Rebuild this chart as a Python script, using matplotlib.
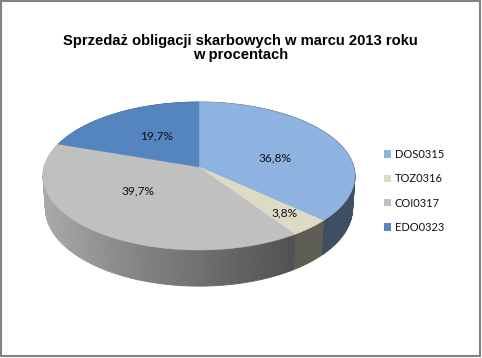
import numpy as np
import matplotlib
matplotlib.use("Agg")
import matplotlib.pyplot as plt
from matplotlib.patches import Rectangle, Patch, Polygon

title = "Sprzedaż obligacji skarbowych w marcu 2013 roku\nw procentach"
categories = ["DOS0315", "TOZ0316", "COI0317", "EDO0323"]
values = [36.8, 3.8, 39.7, 19.7]
value_labels = ["36,8%", "3,8%", "39,7%", "19,7%"]
colors = ["#8fb3e0", "#dddbc5", "#c0c0c0", "#5585bf"]
label_pos = [(275, 158), (285, 213), (138, 191), (157, 136)]

W, H = 482, 358
fig = plt.figure(figsize=(W / 100, H / 100), dpi=100, facecolor="white")
ax = fig.add_axes([0, 0, 1, 1])
ax.set_xlim(0, W)
ax.set_ylim(H, 0)
ax.axis("off")

# border
ax.add_patch(Rectangle((1, 1), 479, 354.5, fill=False, ec="#828282", lw=1.5))

# perspective projection of the pie disc
CX, CY, B, A, K = 199.0, 167.0, 154.8, 72.9, 0.1217
DEPTH, SX, SY = 32.0, 0.985, 1.05


def project(t, bottom=False):
    X, Y = np.sin(t), np.cos(t)
    w = 1 + K * Y
    if bottom:
        return CX + SX * B * X / w, CY + DEPTH - SY * A * Y / w
    return CX + B * X / w, CY - A * Y / w


def shade(x):
    return np.interp(x, [44, 120, 200, 295, 355], [0.88, 0.72, 0.58, 0.42, 0.44])


edges = np.concatenate([[0], np.cumsum(values)]) / sum(values) * 2 * np.pi

# side strips, painted back to front
strips = []
for i, col in enumerate(colors):
    n = max(2, int((edges[i + 1] - edges[i]) / np.radians(1.5)))
    ts = np.linspace(edges[i], edges[i + 1], n + 1)
    for a, b in zip(ts[:-1], ts[1:]):
        strips.append(((a + b) / 2, a, b, col))
strips.sort(key=lambda s: -np.cos(s[0]))
for mid, a, b, col in strips:
    x0, y0 = project(a)
    x1, y1 = project(b)
    x2, y2 = project(b, True)
    x3, y3 = project(a, True)
    rgb = np.array(matplotlib.colors.to_rgb(col)) * shade((x0 + x1) / 2)
    ax.add_patch(Polygon([(x0, y0), (x1, y1), (x2, y2), (x3, y3)],
                         closed=True, fc=rgb, ec=rgb, lw=0.6))

# top faces
for i, col in enumerate(colors):
    ts = np.linspace(edges[i], edges[i + 1], 200)
    xs, ys = project(ts)
    pts = np.vstack([[CX, CY], np.column_stack([xs, ys])])
    ax.add_patch(Polygon(pts, closed=True, fc=col, ec=col, lw=0.3))

for (x, y), txt in zip(label_pos, value_labels):
    ax.text(x, y, txt, ha="center", va="center", fontsize=8.6, family="Lato", color="#111111")

ax.text(240.5, 48, title, ha="center", va="center", fontsize=10.6, fontweight="bold",
        family="Liberation Sans", color="black", linespacing=1.08)

handles = [Patch(fc=c, ec="none", label=l) for c, l in zip(colors, categories)]
ax.legend(handles=handles, loc="center left", bbox_to_anchor=(384 / W, 1 - 191 / H),
          bbox_transform=fig.transFigure, frameon=False, borderpad=0, borderaxespad=0,
          prop={"family": "Lato", "size": 8}, handlelength=0.63, handleheight=0.63,
          handletextpad=0.35, labelspacing=1.2, labelcolor="#111111")

fig.savefig("out.png", dpi=100, facecolor="white")
